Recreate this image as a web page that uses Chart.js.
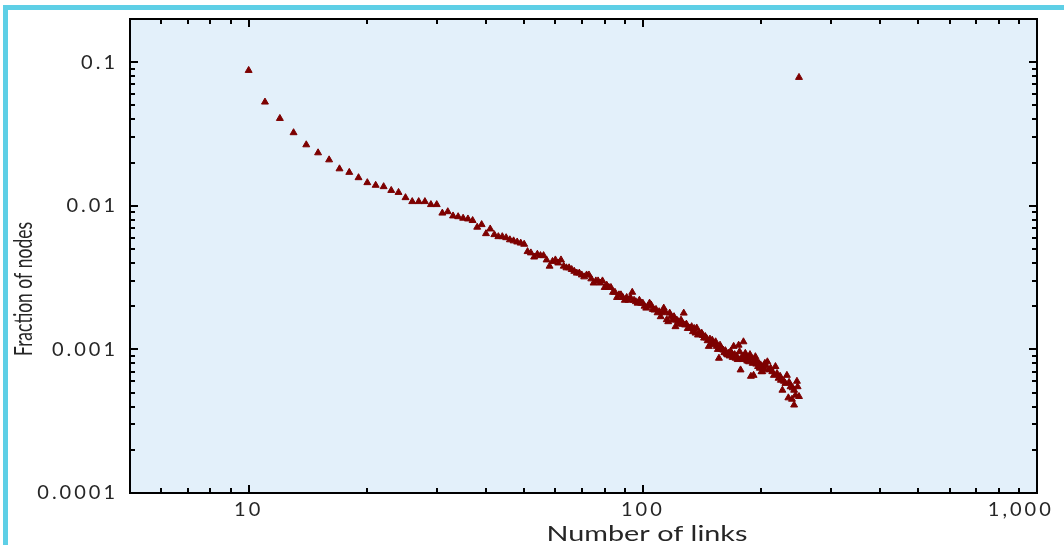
<!DOCTYPE html>
<html>
<head>
<meta charset="utf-8">
<script src="https://cdn.jsdelivr.net/npm/chart.js@4/dist/chart.umd.min.js"></script>
<style>
  html, body { margin: 0; padding: 0; background: #ffffff; }
  canvas { display: block; }
</style>
</head>
<body>
<canvas id="c" width="1064" height="545"></canvas>
<script>
// ---- data ----
const links = [
  10, 11, 12, 13, 14, 15, 16, 17, 18, 19,
  20, 21, 22, 23, 24, 25, 26, 27, 28, 29,
  30, 31, 32, 33, 34, 35, 36, 37, 38, 39,
  40, 41, 42, 43, 44, 45, 46, 47, 48, 49,
  50, 51, 52, 53, 54, 55, 56, 57, 58, 59,
  60, 61, 62, 63, 64, 65, 66, 67, 68, 69,
  70, 71, 72, 73, 74, 75, 76, 77, 78, 79,
  80, 81, 82, 83, 84, 85, 86, 87, 88, 89,
  90, 91, 92, 93, 94, 95, 96, 97, 98, 99,
  100, 101, 102, 103, 104, 105, 106, 107, 108, 109,
  110, 111, 112, 113, 114, 115, 116, 117, 118, 119,
  120, 121, 122, 123, 124, 125, 126, 127, 128, 129,
  130, 131, 132, 133, 134, 135, 136, 137, 138, 139,
  140, 141, 142, 143, 144, 145, 146, 147, 148, 149,
  150, 151, 152, 153, 154, 155, 156, 157, 158, 159,
  160, 161, 162, 163, 164, 165, 166, 167, 168, 169,
  170, 171, 172, 173, 174, 175, 176, 177, 178, 179,
  180, 181, 182, 183, 184, 185, 186, 187, 188, 189,
  190, 191, 192, 193, 194, 195, 196, 197, 198, 199,
  200, 201, 202, 203, 204, 205, 207, 209, 211, 213,
  215, 217, 219, 221, 223, 224, 226, 228, 230, 232,
  234, 235, 237, 239, 240, 242, 242, 244, 246, 247,
  249, 249
];
const fractionOfNodes = [
  0.0877, 0.0528, 0.0406, 0.0323, 0.0266, 0.0234, 0.0209, 0.0181, 0.0171, 0.0157,
  0.0145, 0.0139, 0.0136, 0.0128, 0.0124, 0.0114, 0.0107, 0.0107, 0.0107, 0.0102,
  0.0102, 0.0089, 0.0091, 0.0085, 0.0084, 0.0082, 0.0081, 0.0079, 0.0071, 0.0074,
  0.0064, 0.0069, 0.0063, 0.0061, 0.0061, 0.0060, 0.0058, 0.0057, 0.0056, 0.0055,
  0.0054, 0.0048, 0.0047, 0.0044, 0.0046, 0.0045, 0.0045, 0.0042, 0.0038, 0.0041,
  0.0042, 0.0040, 0.0042, 0.0038, 0.0037, 0.0037, 0.0036, 0.0035, 0.0034, 0.0034,
  0.0033, 0.0032, 0.0033, 0.0033, 0.0031, 0.0029, 0.0030, 0.0030, 0.0029, 0.0030,
  0.0027, 0.0028, 0.0027, 0.0027, 0.0025, 0.0025, 0.0023, 0.0024, 0.0024, 0.0023,
  0.0022, 0.0023, 0.0022, 0.0023, 0.0025, 0.0022, 0.00215, 0.0021, 0.0022, 0.0021,
  0.0021, 0.0020, 0.00194, 0.0020, 0.0021, 0.00204, 0.0019, 0.00188, 0.0019, 0.0018,
  0.00183, 0.00169, 0.0018, 0.00194, 0.00183, 0.00161, 0.00156, 0.00179, 0.0017, 0.0016,
  0.00169, 0.00144, 0.0016, 0.00156, 0.0015, 0.0016, 0.0015, 0.00179, 0.00148, 0.0015,
  0.0014, 0.00141, 0.0014, 0.00144, 0.00133, 0.0014, 0.0013, 0.00141, 0.00126, 0.0013,
  0.00128, 0.0013, 0.00125, 0.0012, 0.00123, 0.0012, 0.00115, 0.00105, 0.00118, 0.0011,
  0.00116, 0.0011, 0.00108, 0.00113, 0.00105, 0.0010, 0.000868, 0.00107, 0.00102, 0.0010,
  0.00099, 0.00095, 0.00098, 0.00093, 0.000916, 0.00094, 0.0009, 0.00097, 0.00094, 0.00088,
  0.00105, 0.00092, 0.000868, 0.0009, 0.00085, 0.00107, 0.000965, 0.00072, 0.00088, 0.00085,
  0.00113, 0.0009, 0.00094, 0.00086, 0.00083, 0.00088, 0.00082, 0.00092, 0.00065, 0.00086,
  0.0008, 0.00066, 0.00084, 0.00089, 0.00079, 0.00082, 0.00076, 0.0008, 0.00074, 0.00078,
  0.0007, 0.0007, 0.00076, 0.00073, 0.0008, 0.00077, 0.00082, 0.00072, 0.00074, 0.0007,
  0.00066, 0.00076, 0.00068, 0.00063, 0.00065, 0.00061, 0.00052, 0.0006, 0.00058, 0.00066,
  0.00046, 0.00059, 0.00055, 0.00045, 0.00054, 0.00052, 0.00041, 0.00048, 0.0006, 0.00055,
  0.00047, 0.0784
];

const xTickValues = [10, 100, 1000];
const xTickLabels = ['10', '100', '1,000'];
const xMinorTickValues = [6, 7, 8, 9, 20, 30, 40, 50, 60, 70, 80, 90, 200, 300, 400, 500, 600, 700, 800, 900];
const yTickValues = [0.0001, 0.001, 0.01, 0.1];
const yTickLabels = ['0.0001', '0.001', '0.01', '0.1'];
const yMinorTickValues = [
  0.0002, 0.0003, 0.0004, 0.0005, 0.0006, 0.0007, 0.0008, 0.0009,
  0.002, 0.003, 0.004, 0.005, 0.006, 0.007, 0.008, 0.009,
  0.02, 0.03, 0.04, 0.05, 0.06, 0.07, 0.08, 0.09
];
const xTitle = 'Number of links';
const yTitle = 'Fraction of nodes';

// ---- helpers ----
function labelFor(v, values, labels) {
  for (let i = 0; i < values.length; i++) {
    if (Math.abs(v - values[i]) / values[i] < 1e-6) {
      return i === values.length - 1 && values === xTickValues ? labels[i] + '\u00a0\u00a0\u00a0\u00a0' : labels[i];
    }
  }
  return '';
}

const TEXT = '#262626';

const framePlugin = {
  id: 'framePlugin',
  beforeDraw(chart) {
    const { ctx, chartArea: a } = chart;
    ctx.save();
    ctx.fillStyle = '#ffffff';
    ctx.fillRect(0, 0, chart.width, chart.height);
    ctx.fillStyle = '#5ecfe6';
    ctx.fillRect(3, 5, chart.width - 3, 5);
    ctx.fillRect(3, 5, 5, chart.height - 5);
    ctx.fillStyle = '#e3f0fa';
    ctx.fillRect(a.left, a.top, a.right - a.left, a.bottom - a.top);
    ctx.restore();
    ctx.letterSpacing = '3px';
  },
  afterDraw(chart) {
    const { ctx, chartArea: a, scales } = chart;
    const xs = scales.x, ys = scales.y;
    ctx.save();
    ctx.letterSpacing = '0px';
    ctx.strokeStyle = '#000000';
    ctx.lineWidth = 2;
    ctx.strokeRect(a.left, a.top, a.right - a.left, a.bottom - a.top);
    ctx.beginPath();
    const xt = (v, len) => {
      const p = Math.round(xs.getPixelForValue(v));
      ctx.moveTo(p, a.bottom); ctx.lineTo(p, a.bottom - len);
      ctx.moveTo(p, a.top); ctx.lineTo(p, a.top + len);
    };
    const yt = (v, len) => {
      const p = Math.round(ys.getPixelForValue(v));
      ctx.moveTo(a.left, p); ctx.lineTo(a.left + len, p);
      ctx.moveTo(a.right, p); ctx.lineTo(a.right - len, p);
    };
    xTickValues.forEach(v => xt(v, 8));
    xMinorTickValues.forEach(v => xt(v, 5));
    yTickValues.forEach(v => yt(v, 8));
    yMinorTickValues.forEach(v => yt(v, 5));
    ctx.stroke();

    // axis titles
    ctx.fillStyle = TEXT;
    ctx.textBaseline = 'alphabetic';
    ctx.textAlign = 'center';
    ctx.save();
    ctx.translate(Math.round(xs.getPixelForValue(100)) + 4, 541);
    ctx.scale(1.37, 1);
    ctx.font = '21px Lato';
    ctx.fillText(xTitle, 0, 0);
    ctx.restore();

    ctx.save();
    ctx.translate(32, 289);
    ctx.scale(1.45, 1);
    ctx.rotate(-Math.PI / 2);
    ctx.font = '17.5px Lato';
    ctx.fillText(yTitle, 0, 0);
    ctx.restore();
    ctx.restore();
    ctx.letterSpacing = '3px';
  }
};

const points = links.map((k, i) => ({ x: k, y: fractionOfNodes[i] }));

new Chart(document.getElementById('c'), {
  type: 'scatter',
  data: {
    datasets: [{
      data: points,
      pointStyle: 'triangle',
      pointRadius: 4,
      pointBorderWidth: 1,
      backgroundColor: '#7d0000',
      borderColor: '#7d0000'
    }]
  },
  options: {
    responsive: false,
    animation: false,
    devicePixelRatio: 1,
    layout: { padding: { left: 0, right: 27, top: 19, bottom: 0 } },
    plugins: { legend: { display: false }, tooltip: { enabled: false } },
    scales: {
      x: {
        type: 'logarithmic',
        position: 'bottom',
        min: 5,
        max: 1000,
        grid: { display: false, drawTicks: false },
        border: { display: false },
        afterBuildTicks: s => { s.ticks = xTickValues.map(v => ({ value: v })); },
        ticks: {
          callback: v => labelFor(v, xTickValues, xTickLabels),
          font: { family: 'Lato', size: 20 },
          color: TEXT,
          padding: 5,
          maxRotation: 0,
          minRotation: 0,
          autoSkip: false
        },
        afterFit: s => { s.height = 52; s.paddingLeft = 0; s.paddingRight = 0; }
      },
      y: {
        type: 'logarithmic',
        position: 'left',
        min: 0.0001,
        max: 0.2,
        grid: { display: false, drawTicks: false },
        border: { display: false },
        afterBuildTicks: s => { s.ticks = yTickValues.map(v => ({ value: v })); },
        ticks: {
          callback: v => labelFor(v, yTickValues, yTickLabels),
          font: { family: 'Lato', size: 20 },
          color: TEXT,
          padding: 12,
          autoSkip: false
        },
        afterFit: s => { s.width = 130; s.paddingTop = 0; s.paddingBottom = 0; }
      }
    }
  },
  plugins: [framePlugin]
});
</script>
</body>
</html>
